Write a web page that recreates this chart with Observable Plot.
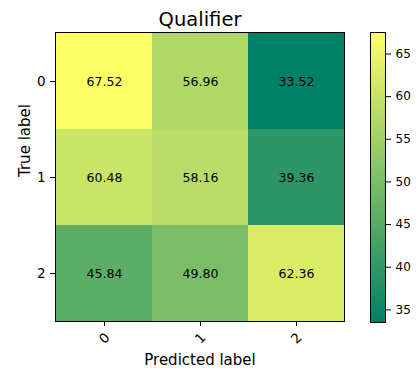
<!DOCTYPE html>
<html>
<head>
<meta charset="utf-8">
<script src="https://cdn.jsdelivr.net/npm/d3@7"></script>
<script src="https://cdn.jsdelivr.net/npm/@observablehq/plot@0.6"></script>
<style>
  html, body { margin: 0; padding: 0; background: #fff; }
  #fig { display: flex; width: 419px; height: 368px; background: #fff; }
  #fig svg { display: block; }
</style>
</head>
<body>
<div id="fig"></div>
<script>
// Confusion matrix of the "Qualifier" classifier (percentages)
const trueLabels = ["0", "1", "2"];
const predictedLabels = ["0", "1", "2"];
const row0 = [67.52, 56.96, 33.52];
const row1 = [60.48, 58.16, 39.36];
const row2 = [45.84, 49.80, 62.36];
const colorbarTicks = [35, 40, 45, 50, 55, 60, 65];

const rows = [row0, row1, row2];
const cells = rows.flatMap((r, i) =>
  r.map((v, j) => ({truth: trueLabels[i], pred: predictedLabels[j], value: v}))
);
const lo = d3.min(cells, d => d.value);
const hi = d3.max(cells, d => d.value);

// matplotlib "summer" colormap: (0, .5, .4) -> (1, 1, .4)
const colorScale = {type: "linear", domain: [lo, hi], range: ["#008066", "#ffff66"], interpolate: "rgb"};
const font = "DejaVu Sans, sans-serif";

const heatmap = Plot.plot({
  width: 358,
  height: 368,
  marginLeft: 55,
  marginRight: 14,
  marginTop: 32,
  marginBottom: 47,
  style: {fontFamily: font, background: "transparent", color: "black"},
  x: {type: "band", domain: predictedLabels, padding: 0},
  y: {type: "band", domain: trueLabels, padding: 0},
  color: colorScale,
  marks: [
    Plot.cell(cells, {x: "pred", y: "truth", fill: "value", inset: 0}),
    Plot.text(cells, {x: "pred", y: "truth", text: d => d.value.toFixed(2), fill: "black", fontSize: 12.5}),
    Plot.frame({stroke: "black", strokeWidth: 1}),
    Plot.axisX({tickSize: 5, tickFormat: null, label: null}),
    Plot.text(predictedLabels, {x: d => d, frameAnchor: "bottom", dy: 17, rotate: -45,
      textAnchor: "middle", lineAnchor: "middle", fontSize: 13.5, fill: "black"}),
    Plot.axisY({tickSize: 5, tickPadding: 5, fontSize: 13.5, label: null}),
    Plot.text(["Qualifier"], {frameAnchor: "top", dy: -7, lineAnchor: "bottom", fontSize: 19.5, fill: "black"}),
    Plot.text(["Predicted label"], {frameAnchor: "bottom", dy: 43, lineAnchor: "bottom", fontSize: 15, fill: "black"}),
    Plot.text(["True label"], {frameAnchor: "left", dx: -30, rotate: -90, lineAnchor: "middle", fontSize: 15, fill: "black"})
  ]
});

// colour bar: thin slices spanning the value range
const step = (hi - lo) / 256;
const stops = d3.range(256).map(i => lo + i * step);

const colorbar = Plot.plot({
  width: 61,
  height: 368,
  marginLeft: 12,
  marginRight: 34,
  marginTop: 32,
  marginBottom: 46,
  style: {fontFamily: font, background: "transparent", color: "black"},
  y: {domain: [lo, hi]},
  color: colorScale,
  marks: [
    Plot.rect(stops, {y1: d => d, y2: d => d + step, fill: d => d + step / 2, shapeRendering: "crispEdges"}),
    Plot.frame({stroke: "black", strokeWidth: 1}),
    Plot.axisY(colorbarTicks, {anchor: "right", tickSize: 5, tickPadding: 5, fontSize: 12, label: null})
  ]
});

document.getElementById("fig").append(heatmap, colorbar);
</script>
</body>
</html>
